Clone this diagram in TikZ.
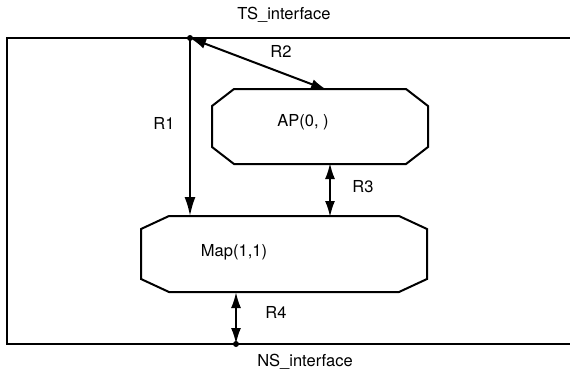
\documentclass[tikz,border=0pt]{standalone}
\usepackage{fontspec}
\setmainfont{TeX Gyre Heros}
\usetikzlibrary{arrows.meta,calc}
\begin{document}
\begin{tikzpicture}[x=1pt,y=-1pt,
  line width=2pt,
  lbl/.style={inner sep=0pt,font=\fontsize{16.5}{20}\selectfont},
  frame/.style={minimum width=#1,inner sep=0pt,draw=none},
  dbl/.style={{Latex[length=16pt,width=10pt]}-{Latex[length=16pt,width=10pt]}},
  sgl/.style={-{Latex[length=19pt,width=11pt]}},
  dot/.style={circle,fill=black,inner sep=0pt,minimum size=6pt}
]
\useasboundingbox (0,0) rectangle (570,373);
% outer frame
\draw (570,38) -- (7,38) -- (7,344) -- (570,344);
% boxes (invisible frames)
\node[frame=214pt,minimum height=73pt] (ap) at (320,126.5) {};
\node[frame=284pt,minimum height=74pt] (map) at (284,254) {};
\draw ($(ap.north west)+(22,0)$) -- ($(ap.north east)+(-22,0)$) -- ($(ap.north east)+(0,17)$)
  -- ($(ap.south east)+(0,-17)$) -- ($(ap.south east)+(-22,0)$) -- ($(ap.south west)+(22,0)$)
  -- ($(ap.south west)+(0,-17)$) -- ($(ap.north west)+(0,17)$) -- cycle;
\draw ($(map.north west)+(28,0)$) -- ($(map.north east)+(-28,0)$) -- ($(map.north east)+(0,13)$)
  -- ($(map.south east)+(0,-13)$) -- ($(map.south east)+(-28,0)$) -- ($(map.south west)+(28,0)$)
  -- ($(map.south west)+(0,-13)$) -- ($(map.north west)+(0,13)$) -- cycle;
% interface points
\node[dot] (ts) at (190,38) {};
\node[dot] (ns) at (236,344) {};
\coordinate (r2end) at (327,90);
\coordinate (r3top) at (330,163);
\coordinate (r3bot) at (330,217);
% connectors
\draw[sgl] (ts.center) -- (ts.center |- map.north);
\draw[dbl] (ts.center) -- (r2end);
\draw[dbl] (r3top) -- (r3bot);
\draw[dbl] (ns.center |- map.south) -- (ns.center);
% labels
\node[lbl] (tsl) at (284,15) {TS\_interface};
\node[lbl] (nsl) at (305,362) {NS\_interface};
\node[lbl] (r1) at (164,123) {R1};
\node[lbl] (r2) at (281,51) {R2};
\node[lbl] (r3) at (363,187) {R3};
\node[lbl] (r4) at (276,312) {R4};
\node[lbl] (apl) at (303,122) {AP(0, )};
\node[lbl] (mapl) at (234,252) {Map(1,1)};
\end{tikzpicture}
\end{document}
